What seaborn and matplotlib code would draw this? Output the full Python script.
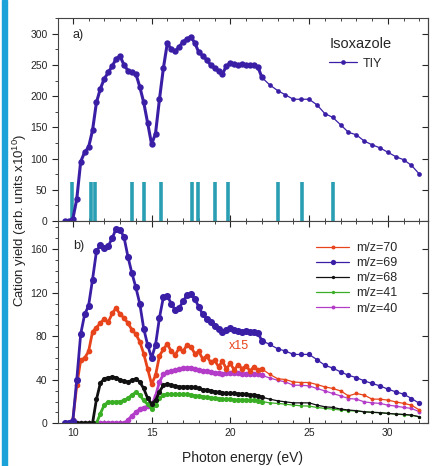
import numpy as np
import pandas as pd
import seaborn as sns
import matplotlib.pyplot as plt
from matplotlib.patches import Rectangle

sns.set_style("ticks")
plt.rcParams['font.family'] = ['Liberation Sans', 'DejaVu Sans']
plt.rcParams['mathtext.default'] = 'regular'

# photon energies (eV): dense scan then coarse scan
energy_dense = [9.5, 9.75, 10.0, 10.25, 10.5, 10.75, 11.0, 11.25, 11.5, 11.75,
                12.0, 12.25, 12.5, 12.75, 13.0, 13.25, 13.5, 13.75, 14.0, 14.25,
                14.5, 14.75, 15.0, 15.25, 15.5, 15.75, 16.0, 16.25, 16.5, 16.75,
                17.0, 17.25, 17.5, 17.75, 18.0, 18.25, 18.5, 18.75, 19.0, 19.25,
                19.5, 19.75, 20.0, 20.25, 20.5, 20.75, 21.0, 21.25, 21.5, 21.75, 22.0]
energy_coarse = [22.5, 23.0, 23.5, 24.0, 24.5, 25.0, 25.5, 26.0, 26.5, 27.0,
                 27.5, 28.0, 28.5, 29.0, 29.5, 30.0, 30.5, 31.0, 31.5, 32.0]

# total ion yield (panel a)
tiy_dense = [0, 0, 3, 35, 95, 110, 118, 145, 190, 212,
             228, 238, 248, 260, 264, 250, 241, 238, 236, 215,
             190, 157, 123, 140, 195, 245, 285, 275, 272, 279,
             287, 292, 295, 285, 270, 265, 258, 250, 245, 240,
             236, 248, 253, 252, 250, 251, 250, 250, 250, 247, 230]
tiy_coarse = [218, 209, 202, 195, 195, 195, 186, 172, 166, 154,
              142, 138, 128, 122, 117, 110, 103, 98, 89, 75]

# ionisation energies marked as bars
bar_energies = [9.96, 11.13, 11.42, 13.78, 14.52, 15.62, 17.56, 17.96,
                19.04, 19.85, 23.04, 24.57, 26.52]
bar_height = 62

# partial ion yields (panel b)
mz69_dense = [0, 0, 2, 40, 82, 100, 108, 132, 158, 164,
              161, 163, 170, 179, 178, 171, 153, 138, 125, 110,
              87, 72, 60, 72, 97, 116, 117, 110, 104, 106,
              112, 118, 119, 114, 107, 100, 96, 93, 89, 87,
              84, 86, 88, 86, 85, 84, 85, 84, 84, 83, 76]
mz69_coarse = [72.5, 68.5, 66.4, 63.3, 63.3, 63.3, 58.5, 53.3, 50.8, 47.2,
               44.1, 42, 39, 36.6, 34.4, 31.4, 28.9, 26.8, 22.8, 18.3]

mz70_dense = [0, 0, 3, 35, 58, 60, 66, 84, 88, 92,
              96, 93, 101, 106, 100, 97, 92, 86, 82, 75,
              64, 50, 36, 44, 62, 68, 73, 66, 63, 69,
              66, 72, 70, 64, 66, 59, 62, 56, 58, 52,
              57, 50, 55, 49, 54, 50, 53, 48, 52, 49, 50]
mz70_coarse = [45, 41, 40.2, 38, 37.5, 37.5, 35.6, 33.5, 32, 29.8,
               25.2, 27.4, 25.9, 22.2, 22.2, 21.3, 19.7, 18.3, 16.7, 12.2]

mz68_dense = [0, 0, 0, 0, 0, 0, 0, 0, 22, 37,
              41, 42, 42.5, 42, 40, 38.5, 38, 39.5, 41, 38,
              32, 23, 18, 21, 29, 35, 36, 35, 34, 33.5,
              33.5, 33.5, 33.5, 33, 32, 31, 30.5, 30, 29, 28.5,
              28, 27.5, 27.5, 27.5, 27, 27, 26.5, 26, 26, 25.5, 24]
mz68_coarse = [22.2, 20.7, 19.7, 18.8, 18.8, 18.8, 16.7, 15.2, 14.6, 13.1,
               12.2, 11.6, 10.6, 10.1, 9.8, 9.1, 8.5, 8.2, 7.6, 6]

mz41_dense = [0, 0, 0, 0, 0, 0, 0, 0, 0, 9,
              17, 19.5, 19.5, 19.5, 20, 21, 23, 26, 28.5, 26,
              21, 17.5, 13.5, 17, 23, 26, 26.5, 26.5, 26.5, 26.5,
              26.5, 26.5, 26, 25.5, 25, 24.5, 24, 23.5, 23, 22.5,
              22, 22, 22, 21.5, 21.5, 21.5, 21.3, 21, 21, 20.8, 20]
mz41_coarse = [18.8, 18.3, 17.6, 16.7, 16.1, 15.8, 14.6, 13.7, 13.1, 12.2,
               11.6, 11.3, 10.6, 10.1, 9.8, 9.1, 8.5, 7.9, 7.3, 6]

mz40_dense = [0, 0, 0, 0, 0, 0, 0, 0, 0, 0,
              0, 0, 0, 0, 0, 0, 3, 7, 10, 13,
              14.5, 15.5, 16.5, 25, 38, 45, 47, 48, 49, 50,
              50.5, 51, 51, 50, 49, 48.5, 48, 47, 46.5, 46,
              45.5, 46, 46, 46, 46, 45.5, 45.5, 45.5, 45.5, 45, 44]
mz40_coarse = [41.7, 39.6, 38, 35, 35, 34.4, 32, 29.8, 27.4, 25.2,
               22.8, 22.2, 19.7, 18.8, 18.3, 16.7, 15.8, 14.6, 13.7, 10.6]

energy = energy_dense + energy_coarse
# name: (dense, coarse, colour, marker size)
series_b = {
    'm/z=70': (mz70_dense, mz70_coarse, '#e8441c', 2.8),
    'm/z=69': (mz69_dense, mz69_coarse, '#3a1fa6', 3.8),
    'm/z=68': (mz68_dense, mz68_coarse, '#111111', 2.4),
    'm/z=41': (mz41_dense, mz41_coarse, '#3aae24', 2.4),
    'm/z=40': (mz40_dense, mz40_coarse, '#b33cc8', 2.8),
}


def draw(ax, dense, coarse, color, ms, label, dense_ms, dense_lw):
    # thin line with small markers for the whole scan
    sns.lineplot(x=energy, y=dense + coarse, ax=ax, color=color, marker='o',
                 markersize=ms, markeredgewidth=0, linewidth=0.9, label=label)
    # dense scan drawn as a heavy band of markers
    sns.lineplot(x=energy_dense, y=dense, ax=ax, color=color, marker='o',
                 markersize=dense_ms, markeredgewidth=0, linewidth=dense_lw,
                 label=None, legend=False)


fig = plt.figure(figsize=(4.35, 4.66), dpi=100)
ax1 = fig.add_axes([0.133, 0.526, 0.851, 0.435])
ax2 = fig.add_axes([0.133, 0.0916, 0.851, 0.4344])

# blue stripe on the left edge
fig.patches.append(Rectangle((0.005, 0), 0.011, 1, transform=fig.transFigure,
                             color='#1ba3d9', zorder=0))

# panel a
ax1.vlines(bar_energies, 0, bar_height, color='#2a9fb3', lw=2.6, zorder=1)
draw(ax1, tiy_dense, tiy_coarse, '#3a1fa6', 3.4, 'TIY', 4.6, 2.2)
leg = ax1.legend(title='Isoxazole', loc='upper left', bbox_to_anchor=(0.72, 0.93),
                 frameon=False, fontsize=9, title_fontsize=10.5, handlelength=2.2,
                 borderaxespad=0, handletextpad=0.5)
leg._legend_box.align = 'left'
ax1.set_ylim(0, 323)
ax1.set_yticks([0, 50, 100, 150, 200, 250, 300])
ax1.text(0.04, 0.9, 'a)', transform=ax1.transAxes, fontsize=9)

# panel b
for name in ['m/z=40', 'm/z=41', 'm/z=68', 'm/z=70', 'm/z=69']:
    dense, coarse, col, ms = series_b[name]
    draw(ax2, dense, coarse, col, ms, name, ms + 1.3, 2.0)
handles, labels = ax2.get_legend_handles_labels()
order = [labels.index(n) for n in series_b]
ax2.legend([handles[i] for i in order], [labels[i] for i in order],
           loc='upper left', bbox_to_anchor=(0.685, 0.92), frameon=False,
           fontsize=9, handlelength=2.6, labelspacing=0.25, borderaxespad=0,
           handletextpad=0.6)
ax2.set_ylim(0, 186)
ax2.set_yticks([0, 40, 80, 120, 160])
ax2.text(0.04, 0.86, 'b)', transform=ax2.transAxes, fontsize=9)
ax2.text(19.9, 68, 'x15', color='#e8441c', fontsize=9)

for ax in (ax1, ax2):
    ax.set_xlim(9.05, 32.55)
    ax.set_xticks([10, 15, 20, 25, 30])
    ax.set_xticks([11, 12, 13, 14, 16, 17, 18, 19, 21, 22, 23,
                   24, 26, 27, 28, 29, 31, 32], minor=True)
    ax.tick_params(axis='x', which='both', direction='in', top=True, labelsize=7.5)
    ax.tick_params(axis='y', which='both', direction='out', right=False, labelsize=7.5)
    ax.tick_params(which='major', length=4, width=0.8)
    ax.tick_params(which='minor', length=2, width=0.6)
    for s in ax.spines.values():
        s.set_color('#444444')
        s.set_linewidth(0.8)
    ax.set_xlabel('')
    ax.set_ylabel('')
    sec = ax.secondary_yaxis('right')
    sec.set_yticks(ax.get_yticks())
    sec.tick_params(direction='in', labelright=False, length=4, width=0.8)
    sec.spines['right'].set_color('#444444')

ax1.tick_params(axis='x', labelbottom=False)
ax1.set_yticks([25, 75, 125, 175, 225, 275, 325], minor=True)
ax2.set_yticks([10, 20, 30, 50, 60, 70, 90, 100, 110, 130, 140, 150, 170, 180], minor=True)

fig.text(0.045, 0.527, 'Cation yield (arb. units x10$^{10}$)', rotation=90,
         ha='center', va='center', fontsize=9.5, color='#222222')
fig.text(0.557, 0.018, 'Photon energy (eV)', ha='center', va='center',
         fontsize=10, color='#222222')

fig.savefig('out.png', dpi=100)
